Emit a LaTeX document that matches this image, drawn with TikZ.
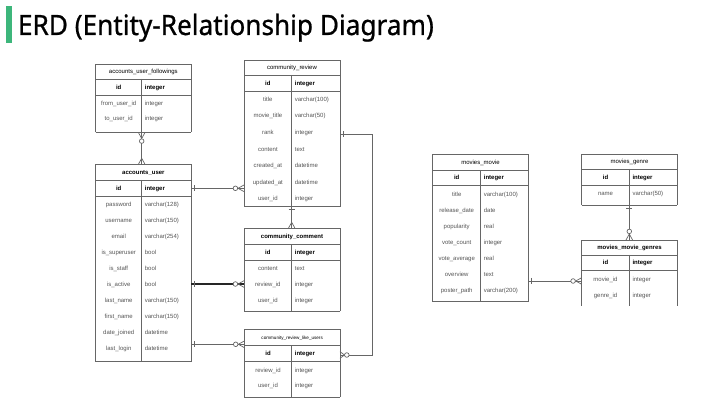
\documentclass[tikz,border=0pt]{standalone}
\usepackage{fontspec}
\newfontfamily\titlefont[FakeBold=0.8]{Noto Sans}
\newfontfamily\tabfont{Liberation Sans}
\definecolor{lc}{HTML}{666666}
\definecolor{tx}{HTML}{555555}
\definecolor{gbar}{HTML}{3DB67B}
\def\ttlsize{6}
\tikzset{
 tline/.style={draw=lc, line width=0.7pt},
 conn/.style={draw=lc, line width=0.7pt},
 heavy/.style={draw=black!85, line width=1.1pt},
 tabbox/.style={inner sep=0pt, outer sep=0pt, rectangle},
 ttl/.style={font=\tabfont\fontsize{\ttlsize}{7}\selectfont, text=black, inner sep=0pt},
 idl/.style={font=\tabfont\bfseries\fontsize{6}{7}\selectfont, text=black, inner sep=0pt},
 att/.style={font=\tabfont\fontsize{6}{7}\selectfont, text=tx, inner sep=0pt},
 zmW/.pic={\draw[conn] (0,-3.3)--(-6,0)--(0,3.3); \draw[conn, fill=white] (-8.6,0) circle[radius=2.3];},
 zmE/.pic={\draw[conn] (0,-3.3)--(4.5,0)--(0,3.3); \draw[conn, fill=white] (6.8,0) circle[radius=2.3];},
 zmN/.pic={\draw[conn] (-3.3,0)--(0,-6)--(3.3,0); \draw[conn, fill=white] (0,-8.6) circle[radius=2.3];},
 zmS/.pic={\draw[conn] (-3.3,0)--(0,6)--(3.3,0); \draw[conn, fill=white] (0,8.6) circle[radius=2.3];},
 crowN/.pic={\draw[conn] (-3.3,0)--(0,-6)--(3.3,0);},
 barE/.pic={\draw[conn] (3,-3)--(3,3);},
 barS/.pic={\draw[conn] (-3,3)--(3,3);},
}
% name, x0, x1, xd, top, titleline, idline, bottom, title
\newcommand\ertab[9]{%
  \node[tabbox, anchor=north west, minimum width={(#3-#2)*1pt}, minimum height={(#8-#5)*1pt}] (#1) at (#2,#5) {};
  \draw[tline] (#2,#8)--(#2,#5)--(#3,#5)--(#3,#8);
  \draw[tline] (#2,#6)--(#3,#6) (#2,#7)--(#3,#7) (#4,#6)--(#4,#8);
  \node[ttl, anchor=base] (#1-ttl) at ({(#2+#3)/2},{(#5+#6)/2+2}) {#9};
  \node[idl, anchor=base] (#1-id) at ({(#2+#4)/2},{(#6+#7)/2+2.1}) {id};
  \node[idl, anchor=base west] (#1-idt) at ({#4+3},{(#6+#7)/2+2.1}) {integer};
}
\newcommand\erbot[3]{\draw[tline] (#1,#3)--(#2,#3);}
% name, x0, xd, first, step, list
\newcommand\errows[6]{%
  \foreach \a/\b [count=\i from 0] in {#6} {
    \node[att, anchor=base] (#1-a\i) at ({(#2+#3)/2},{#4+\i*#5+2}) {\a};
    \node[att, anchor=base west] (#1-b\i) at ({#3+3},{#4+\i*#5+2}) {\b};
  }}
\begin{document}
\begin{tikzpicture}[x=1pt,y=-1pt]
\useasboundingbox (0,0) rectangle (726,406);
\fill[white] (0,0) rectangle (726,406);
% title
\fill[gbar] (6,6.3) rectangle (11.7,42.7);
\node[anchor=base west, inner sep=0pt, font=\titlefont\fontsize{28}{30}\selectfont] (title) at (17.8,35) {\scalebox{0.935}[1]{ERD (Entity-Relationship Diagram)}};

% tables
\ertab{fol}{95.7}{191}{141.7}{64}{79}{95}{132.5}{accounts\_user\_followings}
\erbot{95.7}{191}{132.5}
\errows{fol}{95.7}{141.7}{103.3}{15.7}{from\_user\_id/integer, to\_user\_id/integer}

\ertab{rev}{244}{340}{291.7}{60}{75}{91}{206.7}{community\_review}
\erbot{244}{340}{206.7}
\errows{rev}{244}{291.7}{99.3}{16.6}{title/varchar(100), movie\_title/varchar(50), rank/integer, content/text, created\_at/datetime, updated\_at/datetime, user\_id/integer}

\ertab{au}{95.7}{191}{141.7}{164.3}{180}{196}{361.7}{\bfseries accounts\_user}
\erbot{95.7}{191}{361.7}
\errows{au}{95.7}{141.7}{204.3}{16.0}{password/varchar(128), username/varchar(150), email/varchar(254), is\_superuser/bool, is\_staff/bool, is\_active/bool, last\_name/varchar(150), first\_name/varchar(150), date\_joined/datetime, last\_login/datetime}

\ertab{com}{244}{340}{291.7}{228.3}{244.3}{260}{311}{\bfseries community\_comment}
\erbot{244}{340}{311}
\errows{com}{244}{291.7}{268.3}{16.3}{content/text, review\_id/integer, user\_id/integer}

\def\ttlsize{4.6}
\ertab{like}{244.3}{340}{291.7}{329.3}{345}{361.7}{397.3}{community\_review\_like\_users}
\def\ttlsize{6}
\erbot{244.3}{340}{397.3}
\errows{like}{244.3}{291.7}{370}{15.7}{review\_id/integer, user\_id/integer}

\ertab{mov}{432.7}{528.3}{480.7}{154.3}{170}{185.7}{301.7}{movies\_movie}
\erbot{432.7}{528.3}{301.7}
\errows{mov}{432.7}{480.7}{194.3}{16.07}{title/varchar(100), release\_date/date, popularity/real, vote\_count/integer, vote\_average/real, overview/text, poster\_path/varchar(200)}

\ertab{gen}{581.7}{677.3}{629.3}{154.3}{169}{185}{205}{movies\_genre}
\erbot{581.7}{677.3}{205}
\errows{gen}{581.7}{629.3}{193.3}{16}{name/varchar(50)}

\ertab{mg}{581.7}{677.3}{629.3}{240}{255}{270.7}{305.7}{\bfseries movies\_movie\_genres}
\errows{mg}{581.7}{629.3}{280}{15.7}{movie\_id/integer, genre\_id/integer}

% connector end points
\coordinate (fol-b) at (141.7,132.5);
\coordinate (au-t) at (141.7,164.3);
\coordinate (au-r1) at (191,188.3);
\coordinate (rev-l) at (244,188.3);
\coordinate (rev-b) at (291.7,206.7);
\coordinate (com-t) at (291.7,228.3);
\coordinate (au-r2) at (191,284);
\coordinate (com-l) at (244,284);
\coordinate (au-r3) at (191,344.3);
\coordinate (like-l) at (244.3,344.3);
\coordinate (rev-r) at (340,134.3);
\coordinate (like-r) at (340,355);
\coordinate (gen-b) at (629.3,205);
\coordinate (mg-t) at (629.3,240);
\coordinate (mov-r) at (528.3,281);
\coordinate (mg-l) at (581.7,281);

% connectors
\draw[conn] (fol-b) -- (au-t);
\pic at (fol-b) {zmS};
\pic at (au-t) {crowN};

\draw[conn] (au-r1) -- (rev-l);
\pic at (au-r1) {barE};
\pic at (rev-l) {zmW};

\draw[conn] (rev-b) -- (com-t);
\pic at (rev-b) {barS};
\pic at (com-t) {crowN};

\draw[heavy] (au-r2) -- (com-l);
\pic at (au-r2) {barE};
\pic at (com-l) {zmW};

\draw[conn] (au-r3) -- (like-l);
\pic at (au-r3) {barE};
\pic at (like-l) {zmW};

\draw[conn] (rev-r) -- ++(32.7,0) |- (like-r);
\pic at (rev-r) {barE};
\pic at (like-r) {zmE};

\draw[conn] (gen-b) -- (mg-t);
\pic at (gen-b) {barS};
\pic at (mg-t) {zmN};

\draw[conn] (mov-r) -- (mg-l);
\pic at (mov-r) {barE};
\pic at (mg-l) {zmW};
\end{tikzpicture}
\end{document}
